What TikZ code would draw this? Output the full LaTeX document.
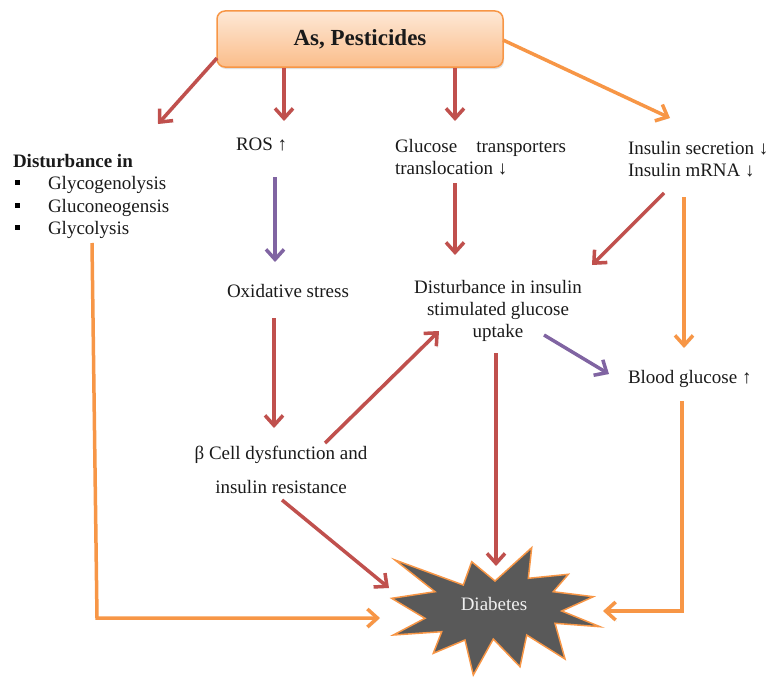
\documentclass[tikz,border=0pt]{standalone}
\usepackage{fontspec}
\setmainfont{Liberation Serif}
\usetikzlibrary{arrows.meta,shadows}
\definecolor{cred}{HTML}{C0504D}
\definecolor{cpur}{HTML}{8064A2}
\definecolor{corg}{HTML}{F79646}
\definecolor{cstar}{HTML}{595959}
\definecolor{ctext}{HTML}{1A1A1A}
\definecolor{boxtop}{HTML}{FDE8D6}
\definecolor{boxbot}{HTML}{FBBD8A}
\begin{document}
\begin{tikzpicture}[x=1pt,y=-1pt,
  lbl/.style={inner sep=0pt, outer sep=0pt, anchor=base west, text=ctext,
    font=\fontsize{19}{22}\selectfont},
  lblc/.style={lbl, anchor=base},
  lble/.style={lbl, anchor=base east},
  arr/.style={line width=3.5pt, -{Straight Barb[length=10pt,width=18pt]},
    preaction={draw=black, opacity=0.12, transform canvas={xshift=1pt,yshift=-1.5pt}}},
  rarr/.style={arr, draw=cred},
  parr/.style={arr, draw=cpur},
  oarr/.style={arr, draw=corg},
  srcbox/.style={draw=corg, line width=1.5pt, rounded corners=8pt,
    top color=boxtop, bottom color=boxbot, minimum width=286pt, minimum height=56pt,
    text=ctext, font=\fontsize{23}{26}\selectfont\bfseries,
    drop shadow={opacity=0.25, shadow xshift=1pt, shadow yshift=-2pt}},
  bullet/.style={fill=black, inner sep=0pt, minimum size=5.5pt},
  startxt/.style={inner sep=0pt, anchor=base, text={rgb,255:red,240;green,240;blue,240},
    font=\fontsize{19}{22}\selectfont}
]
\useasboundingbox (0,0) rectangle (773,677);

% source box
\node[srcbox] (src) at (360,39) {As, Pesticides};

% texts
\node[lbl, font=\fontsize{19}{22}\selectfont\bfseries] (dist) at (13,167) {Disturbance in};
\node[bullet] (b1) at (17.5,182.5) {};
\node[bullet] (b2) at (17.5,205.5) {};
\node[bullet] (b3) at (17.5,227.5) {};
\node[lbl] (glg) at (48,189) {Glycogenolysis};
\node[lbl] (gng) at (48,212) {Gluconeogensis};
\node[lbl] (gly) at (48,234) {Glycolysis};

\node[lbl] (ros) at (236,150) {ROS ↑};
\node[lbl] (glu) at (395,152) {Glucose};
\node[lble] (trp) at (566,152) {transporters};
\node[lbl] (trl) at (395,174) {translocation ↓};
\node[lbl] (ins) at (628,154) {Insulin secretion ↓};
\node[lbl] (mrna) at (628,176) {Insulin mRNA ↓};

\node[lbl] (ox) at (227,297) {Oxidative stress};
\node[lblc] (dis1) at (498,293) {Disturbance in insulin};
\node[lblc] (dis2) at (498,315) {stimulated glucose};
\node[lblc] (dis3) at (498,337) {uptake};
\node[lbl] (bg) at (628,383) {Blood glucose ↑};
\node[lblc] (beta1) at (281,459) {β Cell dysfunction and};
\node[lblc] (beta2) at (281,493) {insulin resistance};

% star
\filldraw[fill=cstar, draw=corg, line width=1.5pt, line join=miter]
  (531.7,547.7) -- (528.3,578.3) -- (568.3,574.3) -- (553.3,591.7) -- (593.3,596.7)
  -- (561.7,611) -- (600,626.7) -- (555,623.3) -- (565,659) -- (526.7,635)
  -- (520,666.7) -- (493.3,639) -- (473.3,675) -- (465,640) -- (433.3,653.3)
  -- (441.7,631.7) -- (393.3,635) -- (425,618.3) -- (391.7,598.3) -- (435,591.7)
  -- (395,560) -- (463.3,585) -- (471.7,561.7) -- (495,581) -- cycle;
\node[startxt] (dia) at (494,610) {Diabetes};

% connector end points
\coordinate (p1s) at (217,58);   \coordinate (p1e) at (158,124);
\coordinate (p2s) at (284,68);   \coordinate (p2e) at (284,121);
\coordinate (p3s) at (455,68);   \coordinate (p3e) at (455,121);
\coordinate (p4s) at (503,40);   \coordinate (p4e) at (670,118);
\coordinate (p5s) at (275,177);  \coordinate (p5e) at (275,262);
\coordinate (p6s) at (274,318);  \coordinate (p6e) at (274,428);
\coordinate (p7s) at (325,443);  \coordinate (p7e) at (439,331);
\coordinate (p8s) at (455,183);  \coordinate (p8e) at (455,255);
\coordinate (p9s) at (664,193);  \coordinate (p9e) at (592,265);
\coordinate (p10s) at (684,197); \coordinate (p10e) at (684,348);
\coordinate (p11s) at (544,335); \coordinate (p11e) at (609,374);
\coordinate (p12s) at (496,353); \coordinate (p12e) at (496,566);
\coordinate (p13s) at (282,500); \coordinate (p13e) at (389,588);
\coordinate (p14s) at (92,243);  \coordinate (p14c) at (97,618); \coordinate (p14e) at (380,618);
\coordinate (p15s) at (682,401); \coordinate (p15c) at (682,611); \coordinate (p15e) at (603,611);

% connectors
\draw[rarr] (p1s) -- (p1e);
\draw[rarr] (p2s) -- (p2e);
\draw[rarr] (p3s) -- (p3e);
\draw[oarr] (p4s) -- (p4e);
\draw[parr] (p5s) -- (p5e);
\draw[rarr] (p6s) -- (p6e);
\draw[rarr] (p7s) -- (p7e);
\draw[rarr] (p8s) -- (p8e);
\draw[rarr] (p9s) -- (p9e);
\draw[oarr] (p10s) -- (p10e);
\draw[parr] (p11s) -- (p11e);
\draw[rarr] (p12s) -- (p12e);
\draw[rarr] (p13s) -- (p13e);
\draw[oarr] (p14s) -- (p14c) -- (p14e);
\draw[oarr] (p15s) -- (p15c) -- (p15e);
\end{tikzpicture}
\end{document}
